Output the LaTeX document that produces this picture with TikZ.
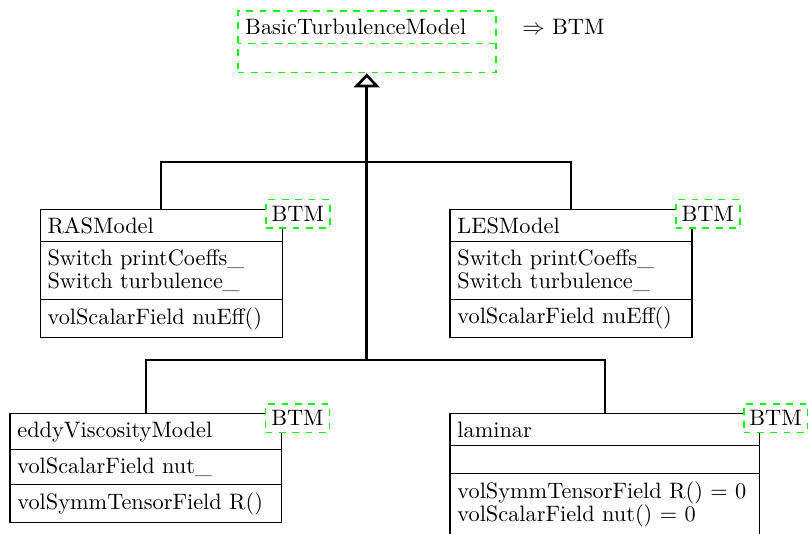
\documentclass[tikz,border=0pt]{standalone}
\usetikzlibrary{shapes.multipart,arrows.meta}
\begin{document}
\begin{tikzpicture}[
  classbox/.style = {draw, line width=0.5pt, rectangle split, rectangle split parts=3,
    align=left, font=\fontsize{10pt}{10.3pt}\selectfont, anchor=north},
  tagbox/.style = {draw=green, thick, dashed, fill=white, inner xsep=2.6pt, inner ysep=3pt,
    anchor=west, xshift=-0.28cm, yshift=-0.08cm},
  link/.style = {very thick},
  inherit/.style = {very thick, -{Triangle[open, width=11.5pt, length=6.2pt]}}]
\useasboundingbox (0,0) rectangle (12.735,-8.416);
\node[classbox, draw=green, thick, dashed, rectangle split parts=2, text width=3.83cm] (btm) at (5.78,-0.16)
  {BasicTurbulenceModel \nodepart{second} \rule{0pt}{5.6pt}};
\node[anchor=base west, inner sep=0pt] (abbrev) at (8.227,0 |- btm.text) {$\Rightarrow$ BTM};
\node[classbox, text width=3.58cm] (ras) at (2.54,-3.29)
  {RASModel \nodepart{second} Switch printCoeffs\_\\Switch turbulence\_
   \nodepart{third} volScalarField nuEff()};
\node[classbox, text width=3.58cm] (les) at (9.0,-3.29)
  {LESModel \nodepart{second} Switch printCoeffs\_\\Switch turbulence\_
   \nodepart{third} volScalarField nuEff()};
\node[classbox, text width=4.05cm] (eddy) at (2.3,-6.51)
  {eddyViscosityModel \nodepart{second} volScalarField nut\_
   \nodepart{third} volSymmTensorField R()};
\node[classbox, text width=4.65cm] (lam) at (9.535,-6.51)
  {laminar \nodepart{second} \rule{0pt}{5.6pt}
   \nodepart{third} volSymmTensorField R() = 0\\volScalarField nut() = 0};
\node[tagbox] (rasTag) at (ras.north east) {BTM};
\node[tagbox] (lesTag) at (les.north east) {BTM};
\node[tagbox] (eddyTag) at (eddy.north east) {BTM};
\node[tagbox] (lamTag) at (lam.north east) {BTM};
\coordinate (upperJoin) at (5.78,-2.553);
\coordinate (lowerJoin) at (5.78,-5.674);
\draw[link] (ras.north) |- (upperJoin) -| (les.north);
\draw[link] (eddy.north) |- (lowerJoin) -| (lam.north);
\draw[inherit] (lowerJoin) -- (btm.south);
\end{tikzpicture}
\end{document}
